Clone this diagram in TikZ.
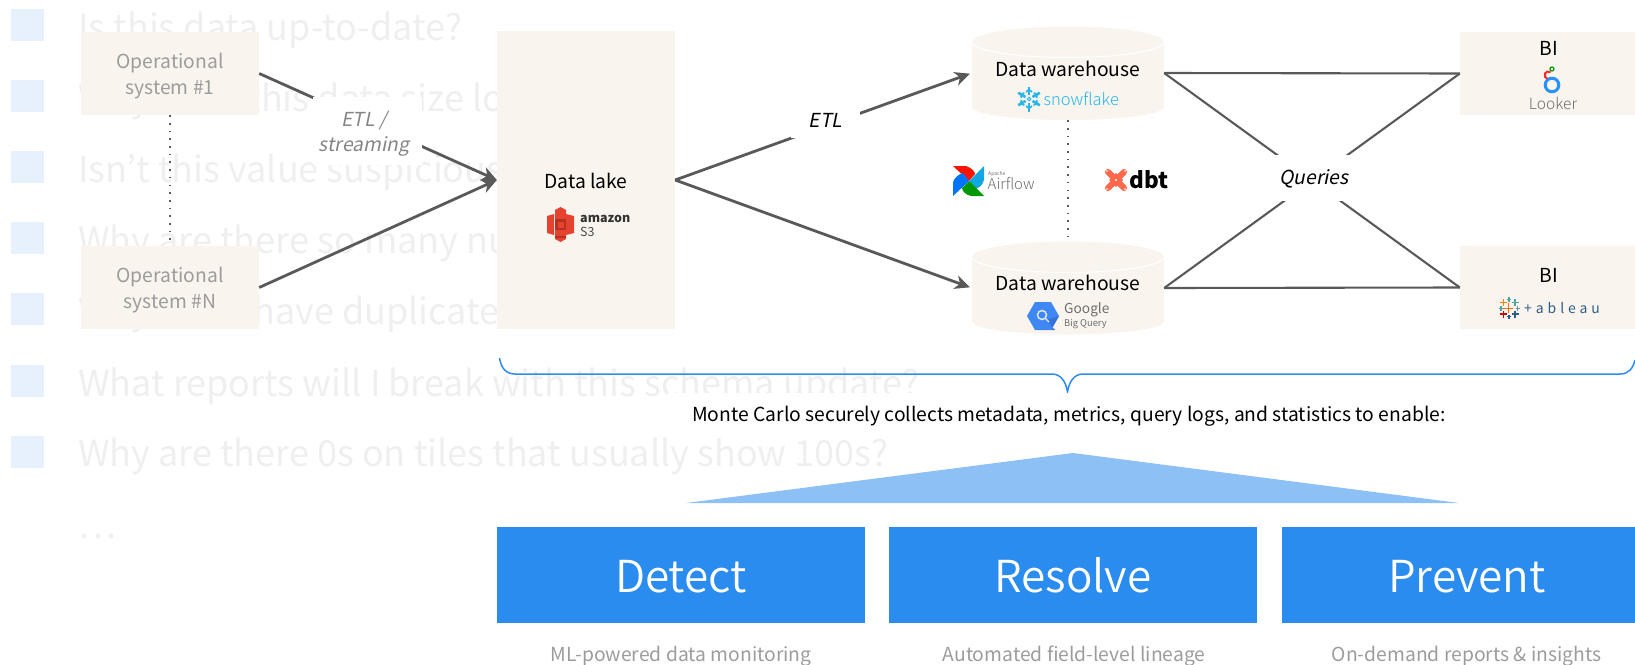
\documentclass[tikz,border=0pt]{standalone}
\usepackage{fontspec}
\usetikzlibrary{arrows.meta,calc}
\setmainfont{Noto Sans CJK KR}
\newfontfamily\itfont[FakeSlant=0.2]{Noto Sans CJK KR}
\newfontfamily\ltfont{Noto Sans CJK KR Light}
\newfontfamily\dlfont{Noto Sans CJK KR DemiLight}
\newcommand{\fs}[1]{\fontsize{#1}{#1}\selectfont}
\definecolor{boxc}{HTML}{F9F5EE}
\definecolor{linec}{HTML}{595959}
\definecolor{ghost}{HTML}{EFEFEF}
\definecolor{sq}{HTML}{E6F1FD}
\definecolor{mcblue}{HTML}{2B8CEF}
\definecolor{tri}{HTML}{8DC0F5}
\definecolor{dimtxt}{HTML}{9C9C9C}
\definecolor{snow}{HTML}{29B5E8}
\definecolor{logogrey}{HTML}{6E6E6E}
\definecolor{tabnavy}{HTML}{2F5D8A}
\definecolor{awsred}{HTML}{E5432F}
\definecolor{awsdark}{HTML}{B8301F}
\definecolor{bqblue}{HTML}{3F87F2}
\definecolor{bqdark}{HTML}{3672D8}
\definecolor{dbtor}{HTML}{FF6849}
\newcommand{\tplus}[4]{\draw[#4,line width=1.2pt] (#1-#3,#2) -- (#1+#3,#2) (#1,#2-#3) -- (#1,#2+#3);}
\newcommand{\cyl}[2]{%
  \fill[boxc] (1068,#1) ellipse (96pt and 15.5pt);
  \fill[boxc] (972,#1) rectangle (1164,#2);
  \fill[boxc] (1068,#2) ellipse (96pt and 13pt);
  \draw[white,line width=1pt] (972,#1) arc[start angle=180,end angle=360,x radius=96pt,y radius=15.5pt];
}
\tikzset{
  x=1pt,y=-1pt,
  ghosttxt/.style={anchor=base west,text=ghost,font=\fs{36},inner sep=0pt},
  flatbox/.style={fill=boxc,inner sep=0pt,align=center},
  optxt/.style={inner sep=0pt,align=center,text=dimtxt,font=\fs{19.3}},
  conn/.style={draw=linec,line width=2.8pt,-{Stealth[length=15pt,width=14pt,inset=4.5pt]}},
  plain/.style={draw=linec,line width=2.1pt},
  dotline/.style={draw=linec,line width=1.6pt,dash pattern=on 1.6pt off 6.1pt},
  lab/.style={fill=white,inner sep=0pt,align=center,font=\itfont\fs{19.3}},
  bigbox/.style={fill=mcblue,text=white,inner sep=0pt,text height=34pt,text depth=0pt,font=\dlfont\fs{44}},
  subtxt/.style={text=dimtxt,inner sep=0pt,font=\fs{19.3}},
  hd/.style={text=black,inner sep=0pt,font=\fs{19.3}},
}
\begin{document}
\begin{tikzpicture}
\useasboundingbox (0,0) rectangle (1635,664);
% ghost background list
\foreach \yy in {9,80,151,222,293,365,436} \fill[sq] (11,\yy) rectangle (44,\yy+32);
\node[ghosttxt] (g1) at (78,40) {Is this data up-to-date?};
\node[ghosttxt] (g2) at (78,111) {Why does this data size lo};
\node[ghosttxt] (g3) at (78,182) {Isn’t this value suspicious?};
\node[ghosttxt] (g4) at (78,253) {Why are there so many nulls?};
\node[ghosttxt] (g5) at (78,324) {Why do I\hspace{24pt} have duplicates?};
\node[ghosttxt] (g6) at (78,396) {What reports will I break with this schema update?};
\node[ghosttxt] (g7) at (78,466.5) {Why are there 0s on tiles that usually show 100s?};
\node[ghosttxt] (g8) at (78,538) {…};
% boxes
\node[flatbox,minimum width=178pt,minimum height=83pt] (op1) at (170,73.5) {};
\node[flatbox,minimum width=178pt,minimum height=83pt] (opn) at (170,287.5) {};
\node[optxt] (top1) at (170,76) {Operational\\[6pt]system \#1};
\node[optxt] (topn) at (170,290) {Operational\\[6pt]system \#N};
\node[flatbox,minimum width=178pt,minimum height=298pt] (lake) at (586,180) {};
\node[flatbox,minimum width=175pt,minimum height=83pt] (bi1) at (1547.5,73.5) {};
\node[flatbox,minimum width=175pt,minimum height=83pt] (bi2) at (1547.5,287.5) {};
\cyl{42}{107}
\cyl{257}{321.5}
\node[inner sep=0pt,minimum width=192pt,minimum height=94pt] (wh1) at (1068,73) {};
\node[inner sep=0pt,minimum width=192pt,minimum height=94pt] (wh2) at (1068,288) {};
% texts in boxes
\node[hd] (tlake) at (586,181) {Data lake};
\node[hd] (twh1) at (1068,69) {Data warehouse};
\node[hd] (twh2) at (1068,283) {Data warehouse};
\node[hd] (tbi1) at (1549,48) {BI};
\node[hd] (tbi2) at (1549,275) {BI};
% connectors
\draw[dotline] (op1.south) -- (opn.north);
\draw[dotline] (wh1.south) -- (wh2.north);
\draw[conn] (op1.east) -- (lake.west);
\draw[conn] (opn.east) -- (lake.west);
\draw[conn,shorten >=2pt] (lake.east) -- (wh1.west);
\draw[conn,shorten >=2pt] (lake.east) -- (wh2.west);
\draw[plain] (wh1.east) -- (bi1.west);
\draw[plain] (wh2.east) -- (bi2.west);
\draw[plain] (wh1.east) -- (bi2.west);
\draw[plain] (wh2.east) -- (bi1.west);
% connector labels
\node[lab,minimum width=109pt,minimum height=68pt] (bx) at (367.5,131) {};
\node[inner sep=0pt,align=center,text=dimtxt!85!black,font=\itfont\fs{19.3}] (letl) at (364,134) {ETL /\\[6pt]streaming};
\node[lab,minimum width=69pt,minimum height=36pt] (l2) at (825.5,120) {ETL};
\node[lab,minimum width=80pt,minimum height=46pt,text height=15pt,text depth=2pt] (lq) at (1314,178) {Queries};
% S3 logo
\fill[awsred] (547,216) -- (554,214) -- (554,235) -- (547,233) -- cycle;
\fill[awsred] (574,216) -- (566,214) -- (566,235) -- (574,233) -- cycle;
\fill[awsred] (560.5,207) -- (566,210) -- (566,239) -- (560.5,242) -- (555,239) -- (555,210) -- cycle;
\fill[awsdark] (555,219) rectangle (566,230);
\fill[awsred] (557.5,221.5) rectangle (563.5,227.5);
\fill[awsdark] (555,236) rectangle (566,238);
\node[anchor=west,inner sep=0pt,font=\bfseries\fs{12.5},text=black!80] (amz) at (580,219) {amazon};
\node[anchor=west,inner sep=0pt,font=\fs{12.5},text=black!70] (s3) at (580,232) {S3};
% snowflake logo
\foreach \a in {30,90,...,330}{
  \begin{scope}[shift={(1029,99)},rotate=\a]
    \draw[snow,line width=2.6pt] (4,0) -- (12.5,0);
    \draw[snow,line width=1.6pt] (7,-3) -- (9.5,0) -- (7,3);
  \end{scope}
}
\draw[snow,line width=1pt] (1029,99) circle (1.8pt);
\node[anchor=west,inner sep=0pt,text=snow,font=\ltfont\fs{16.5}] (snowt) at (1043.5,99) {snowflake};
% big query logo
\fill[bqblue] (1027,316) -- (1035,302) -- (1051,302) -- (1059,316) -- (1051,330) -- (1035,330) -- cycle;
\fill[bqdark] (1046,320) -- (1059,316) -- (1051,330) -- (1055,330) -- cycle;
\draw[white!85!bqblue,line width=1.4pt] (1042,315) circle (4.5pt) (1045.5,318.5) -- (1049,322);
\node[anchor=west,inner sep=0pt,text=logogrey,font=\fs{13.7}] (goog) at (1064,310) {Google};
\node[anchor=west,inner sep=0pt,text=logogrey,font=\fs{9.3}] (bq) at (1064,324) {Big Query};
% airflow logo
\fill[red!85!orange] (969,181) -- (953,166) -- (966,166) .. controls (972,168) and (975,172) .. (975,174) -- cycle;
\fill[cyan!85!teal] (969,181) -- (984,166) -- (984,180) .. controls (982,186) and (979,188) .. (975,189) -- cycle;
\fill[green!60!black] (969,181) -- (984,196) -- (971,196) .. controls (966,195) and (962,191) .. (962,188) -- cycle;
\fill[blue!55!cyan] (969,181) -- (953,196) -- (953,182) .. controls (955,177) and (959,174) .. (963,173) -- cycle;
\node[anchor=west,inner sep=0pt,text=logogrey,font=\fs{5}] (apa) at (988,174) {Apache};
\node[anchor=west,inner sep=0pt,text=logogrey,font=\ltfont\fs{15}] (af) at (987.5,184) {Airflow};
% dbt logo
\draw[dbtor,line width=6pt,line cap=round] (1108,172) -- (1124,188) (1124,172) -- (1108,188);
\fill[dbtor] (1116,173) -- (1123,180) -- (1116,187) -- (1109,180) -- cycle;
\fill[white] (1116,180) circle (1.2pt) (1107,171) circle (.8pt) (1125,171) circle (.8pt) (1107,189) circle (.8pt) (1125,189) circle (.8pt);
\node[anchor=west,inner sep=0pt,font=\bfseries\fs{22.5}] (dbt) at (1129,180) {dbt};
% looker logo
\draw[blue!50!cyan!85!white,line width=3pt] (1552,85) circle (6.8pt);
\draw[red!85!white,line width=2pt,line cap=round] (1550,72) arc[start angle=60,end angle=250,radius=3.6pt];
\draw[green!60!black,line width=1.2pt] (1552,69) circle (2pt);
\node[inner sep=0pt,text=logogrey,font=\ltfont\fs{15.5}] (lk) at (1553,103) {Looker};
% tableau logo
\tplus{1508.3}{308.3}{5}{orange!85!red}
\tplus{1503.3}{302.7}{3.5}{orange}
\tplus{1515}{302.7}{3.5}{teal!70!white}
\tplus{1503.3}{314}{3.5}{red!80!black}
\tplus{1515}{314}{3.5}{tabnavy}
\tplus{1509}{299.3}{2.2}{teal!70!white}
\tplus{1501}{308.3}{2.2}{teal!70!white}
\tplus{1517.7}{308.3}{2.2}{tabnavy!70!white}
\tplus{1509}{316.7}{2.2}{tabnavy}
\node[anchor=west,inner sep=0pt,text=tabnavy,font=\addfontfeature{LetterSpace=28}\fs{14}] (tab) at (1524,308) {+ableau};
% brace
\draw[mcblue,line width=1.5pt] (499.5,358) .. controls (501,368) and (506,374) .. (515,374) -- (1052,374) .. controls (1061,374) and (1066,382) .. (1067.5,392) .. controls (1069,382) and (1074,374) .. (1083,374) -- (1620,374) .. controls (1629,374) and (1633,368) .. (1635,360);
% Monte Carlo
\node[fill=white,inner sep=0pt,minimum width=805pt,minimum height=45pt,text height=15.5pt,text depth=2pt,font=\fs{19.3}] (mc) at (1069,415) {Monte Carlo securely collects metadata, metrics, query logs, and statistics to enable:};
\fill[tri] (686,503) -- (1073,453) -- (1459,503) -- cycle;
% bottom boxes
\node[bigbox,minimum width=368pt,minimum height=96pt] (det) at (681,575) {Detect};
\node[bigbox,minimum width=368pt,minimum height=96pt] (res) at (1073,575) {Resolve};
\path[fill=mcblue] (1282,527) rectangle (1635,623);
\node[inner sep=0pt,text=white,text height=34pt,text depth=0pt,font=\dlfont\fs{44}] (pre) at (1467,575) {Prevent};
\node[subtxt] (s1) at (681,656) {ML-powered data monitoring};
\node[subtxt] (s2) at (1074,656) {Automated field-level lineage};
\node[subtxt] (s3b) at (1466.5,656) {On-demand reports \& insights};
\end{tikzpicture}
\end{document}
